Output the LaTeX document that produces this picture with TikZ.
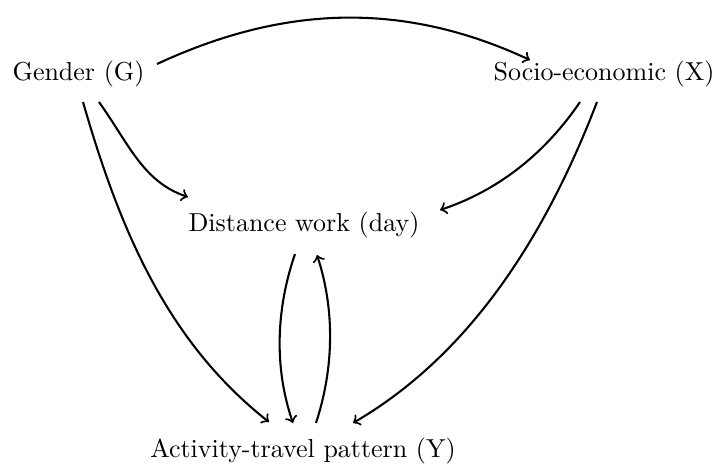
\documentclass[tikz,border=0pt]{standalone}
\usetikzlibrary{calc}
\begin{document}
\begin{tikzpicture}[x=0.385pt,y=-0.385pt,
  lbl/.style={anchor=base,inner sep=0pt},
  conn/.style={->,thick}]
\useasboundingbox (0,0) rectangle (720,464);
\node[lbl] (G) at (78.5,81) {Gender (G)};
\node[lbl] (X) at (604,81) {Socio-economic (X)};
\node[lbl] (D) at (304,231) {Distance work (day)};
\node[lbl] (Y) at (303,457) {Activity-travel pattern (Y)};
% G -> X
\draw[conn] ($(G.base)+(78.5,-17)$) .. controls +(127,-59) and +(-127,-59) .. ($(X.base)+(-74,-21)$);
% G -> D
\draw[conn] ($(G.base)+(20.5,21)$) .. controls +(30,42) and +(-45,-15) .. ($(D.base)+(-116,-34)$);
% G -> Y
\draw[conn] ($(G.base)+(4.5,21)$) .. controls +(36,125) and +(-103,-81) .. ($(Y.base)+(-34,-35)$);
% X -> D
\draw[conn] ($(X.base)+(-24,21)$) .. controls +(-34,50) and +(60,-20) .. ($(D.base)+(136,-21)$);
% X -> Y
\draw[conn] ($(X.base)+(-7,21)$) .. controls +(-50,130) and +(120,-70) .. ($(Y.base)+(50,-34)$);
% D -> Y
\draw[conn] ($(D.base)+(-9,23)$) .. controls +(-19,55) and +(-19,-55) .. ($(Y.base)+(-10,-34)$);
% Y -> D
\draw[conn] ($(Y.base)+(13,-34)$) .. controls +(18,-55) and +(18,55) .. ($(D.base)+(13,24)$);
\end{tikzpicture}
\end{document}
